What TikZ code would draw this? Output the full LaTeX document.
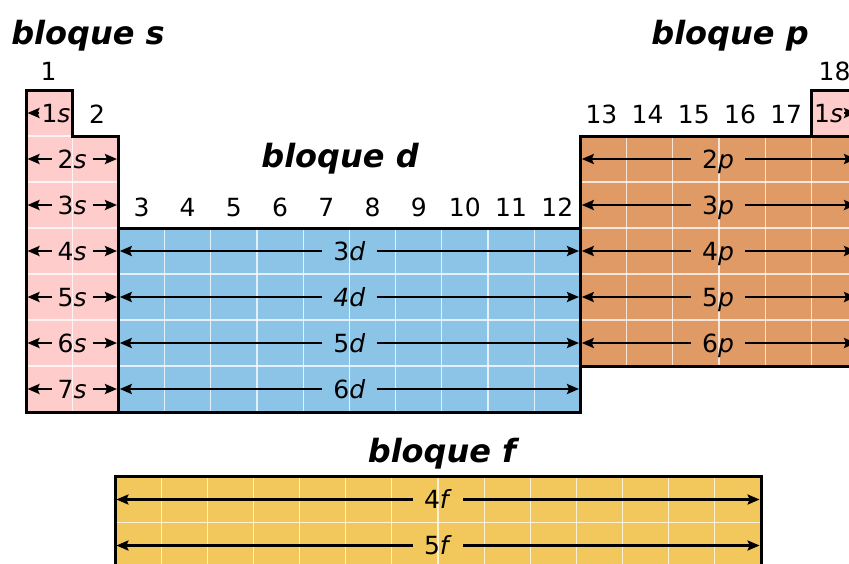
\documentclass[tikz,border=0pt]{standalone}
\usepackage{fontspec}
\setmainfont{DejaVu Sans}
\usetikzlibrary{arrows.meta}
\definecolor{sblk}{RGB}{255,204,204}
\definecolor{dblk}{RGB}{140,196,232}
\definecolor{pblk}{RGB}{224,154,102}
\definecolor{fblk}{RGB}{242,200,92}
\begin{document}
\begin{tikzpicture}[x=1pt,y=-1pt,
  blockline/.style={line width=3pt, line join=miter, line cap=rect},
  gridline/.style={white, line width=1.2pt, opacity=0.75},
  arr/.style={line width=2.4pt, -{Stealth[length=12pt,width=10pt,inset=2pt]}},
  orb/.style={font=\fontsize{25}{30}\selectfont, inner ysep=0pt, inner xsep=11pt, text height=18pt, text depth=0pt},
  num/.style={font=\fontsize{25}{30}\selectfont, inner sep=0pt, anchor=base},
  blocktitle/.style={font=\fontsize{32}{36}\selectfont\bfseries\itshape, inner sep=0pt, anchor=base}]
\useasboundingbox (0,0) rectangle (849,563);

% fills
\fill[sblk] (26,90) -- (72.2,90) -- (72.2,136) -- (118.4,136) -- (118.4,412) -- (26,412) -- cycle;
\fill[dblk] (118.4,228) rectangle (580.4,412);
\fill[pblk] (580.4,136) rectangle (857.6,366);
\fill[sblk] (811.4,90) rectangle (857.6,136);
\fill[fblk] (115,476.5) rectangle (761,600);

% grid lines
\draw[gridline] (72.2,136) -- (72.2,412);
\foreach \yy in {136,182,228,274,320,366} \draw[gridline] (26,\yy) -- (118.4,\yy);
\foreach \k in {1,...,9} \draw[gridline] ({118.4+46.2*\k},228) -- ({118.4+46.2*\k},412);
\foreach \yy in {274,320,366} \draw[gridline] (118.4,\yy) -- (580.4,\yy);
\foreach \k in {1,...,5} \draw[gridline] ({580.4+46.2*\k},136) -- ({580.4+46.2*\k},366);
\foreach \yy in {182,228,274,320} \draw[gridline] (580.4,\yy) -- (857.6,\yy);
\foreach \k in {1,...,13} \draw[gridline] ({115+46.14*\k},476.5) -- ({115+46.14*\k},600);
\draw[gridline] (115,522.5) -- (761,522.5);

% borders
\draw[blockline] (26,412) -- (26,90) -- (72.2,90) -- (72.2,136) -- (118.4,136) -- (118.4,412) -- cycle;
\draw[blockline] (118.4,228) rectangle (580.4,412);
\draw[blockline] (860,366) -- (580.4,366) -- (580.4,136) -- (860,136);
\draw[blockline] (860,90) -- (811.4,90) -- (811.4,136);
\draw[blockline] (115,600) -- (115,476.5) -- (761,476.5) -- (761,600);

% titles
\node[blocktitle] (ts) at (88,44.5) {bloque s};
\node[blocktitle] (tp) at (730,44) {bloque p};
\node[blocktitle] (td) at (340,167) {bloque d};
\node[blocktitle] (tf) at (442,462) {bloque f};

% group numbers
\node[num] (g1) at (48.5,80) {1};
\node[num] (g2) at (97,123.5) {2};
\foreach \g in {3,...,12} \node[num] (g\g) at ({26+46.2*(\g-1)+23.1},216.5) {\g};
\foreach \g in {13,...,17} \node[num] (g\g) at ({26+46.2*(\g-1)+21},123) {\g};
\node[num] (g18) at (834.5,80) {18};

% s block
\coordinate (sL1) at (27.5,113);
\node[orb, inner xsep=2pt] (s1) at (56,113) {1\textit{s}};
\draw[arr] (s1) -- (sL1);
\foreach \r [evaluate=\r as \yy using {113+46*(\r-1)}] in {2,...,7} {
  \coordinate (sL\r) at (27.5,\yy);
  \coordinate (sR\r) at (117,\yy);
  \node[orb, inner xsep=6pt] (s\r) at (72.2,\yy) {\r\textit{s}};
  \draw[arr] (s\r) -- (sL\r);
  \draw[arr] (s\r) -- (sR\r);
}
% helium
\coordinate (heR) at (856,113);
\node[orb, inner xsep=1pt, anchor=west] (he) at (813,113) {1\textit{s}};
\draw[arr] (he) -- (heR);

% d block
\foreach \r/\t in {4/{3\textit{d}},5/{\textit{4d}},6/{5\textit{d}},7/{6\textit{d}}} {
  \coordinate (dL\r) at (119.8,{113+46*(\r-1)});
  \coordinate (dR\r) at (579,{113+46*(\r-1)});
  \node[orb] (d\r) at (349.4,{113+46*(\r-1)}) {\t};
  \draw[arr] (d\r) -- (dL\r);
  \draw[arr] (d\r) -- (dR\r);
}

% p block
\foreach \r in {2,...,6} {
  \coordinate (pL\r) at (581.8,{113+46*(\r-1)});
  \coordinate (pR\r) at (856,{113+46*(\r-1)});
  \node[orb] (p\r) at (718,{113+46*(\r-1)}) {\r\textit{p}};
  \draw[arr] (p\r) -- (pL\r);
  \draw[arr] (p\r) -- (pR\r);
}

% f block
\foreach \r/\n in {1/4,2/5} {
  \coordinate (fL\r) at (116.4,{499.5+46*(\r-1)});
  \coordinate (fR\r) at (759.6,{499.5+46*(\r-1)});
  \node[orb] (f\r) at (438,{499.5+46*(\r-1)}) {\n\textit{f}};
  \draw[arr] (f\r) -- (fL\r);
  \draw[arr] (f\r) -- (fR\r);
}
\end{tikzpicture}
\end{document}
